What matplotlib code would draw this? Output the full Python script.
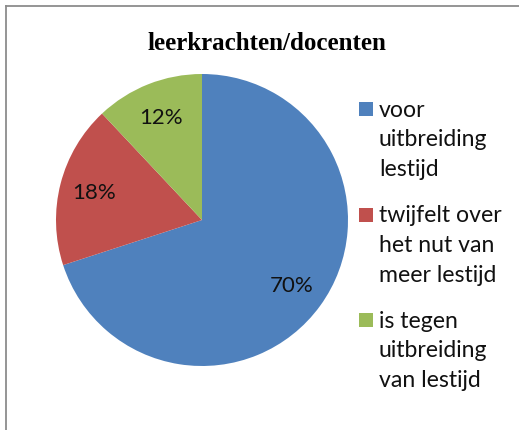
import matplotlib.pyplot as plt
from matplotlib.lines import Line2D
from matplotlib.patches import Rectangle

title = 'leerkrachten/docenten'
categories = ['voor\nuitbreiding\nlestijd',
              'twijfelt over\nhet nut van\nmeer lestijd',
              'is tegen\nuitbreiding\nvan lestijd']
values = [70, 18, 12]
colors = ['#4F81BD', '#C0504D', '#9BBB59']

W, H = 519, 431
fig = plt.figure(figsize=(W / 100, H / 100), dpi=100)

# pie axes: centre (202, 221) px from top-left, radius 146 px
cx, cy, r = 202, 221, 146
ax = fig.add_axes([(cx - r) / W, (H - cy - r) / H, 2 * r / W, 2 * r / H])
wedges, texts, autotexts = ax.pie(values, colors=colors, startangle=90, counterclock=False,
                                  autopct='%d%%', pctdistance=0.76,
                                  textprops={'fontsize': 16, 'family': 'Lato', 'color': '#111111'})
ax.set_xlim(-1, 1)
ax.set_ylim(-1, 1)
ax.set_aspect('equal')

fig.text(267 / W, 1 - 44 / H, title, ha='center', va='center',
         fontsize=18, fontweight='bold', family='Liberation Serif')

# legend drawn by hand so the square sits next to the first line of each label
line_step = 29.5
group_top = 117  # baseline of the first legend line, px from top
for cat, col in zip(categories, colors):
    lines = cat.split('\n')
    fig.add_artist(Rectangle((359 / W, 1 - (group_top) / H), 14 / W, 14 / H,
                             facecolor=col, edgecolor='none', transform=fig.transFigure))
    for i, ln in enumerate(lines):
        fig.text(379 / W, 1 - (group_top + i * line_step) / H, ln, ha='left', va='baseline',
                 fontsize=16.6, family='Lato', color='#111111')
    group_top += (len(lines) - 1) * line_step + 46.5

# chart border (only left and top edges fall inside the image)
fig.add_artist(Line2D([6 / W, 6 / W], [0, 1 - 7 / H], color='#8c8c8c', lw=1.3))
fig.add_artist(Line2D([6 / W, 1], [1 - 7 / H, 1 - 7 / H], color='#8c8c8c', lw=1.3))

fig.savefig('out.png', dpi=100)
